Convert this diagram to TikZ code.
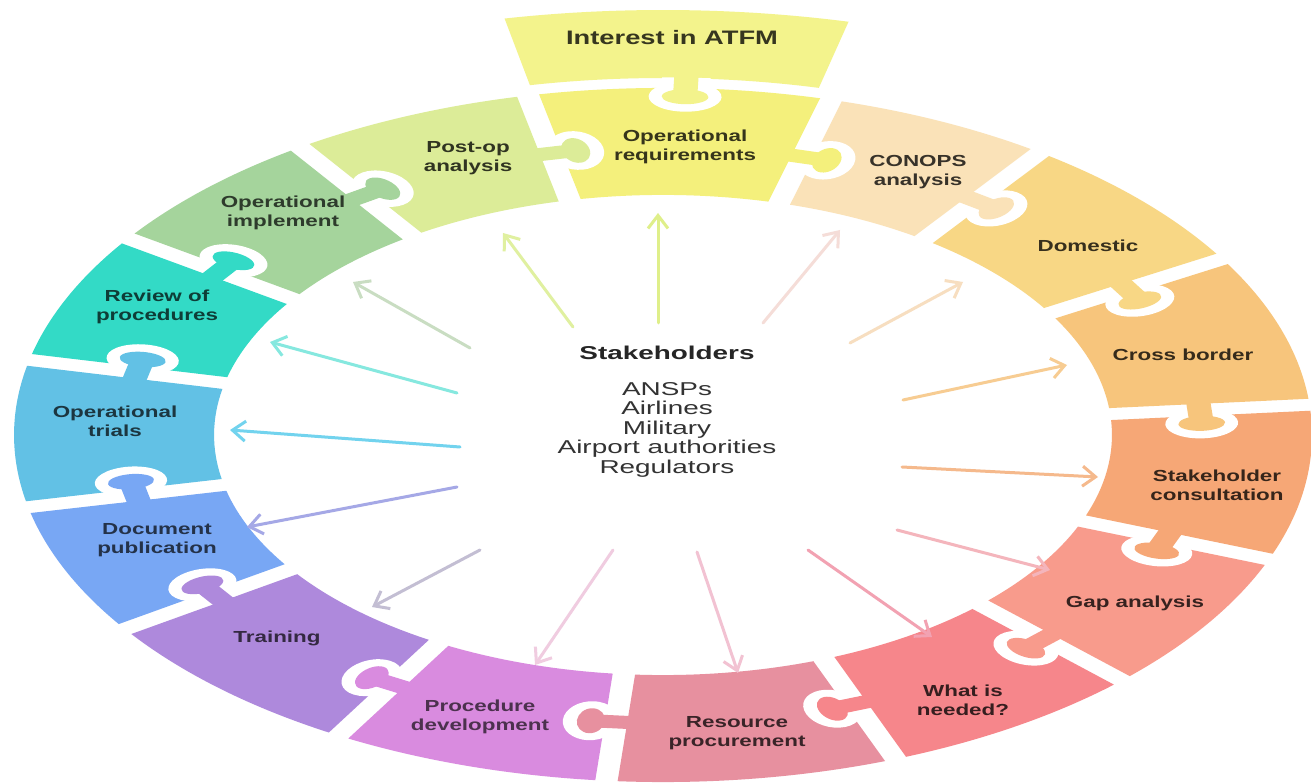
\documentclass[tikz,border=0pt]{standalone}
\usepackage{fontspec}
\setmainfont{Liberation Sans}
\newfontfamily\lblfont{Liberation Sans}[FakeStretch=1.4]
\newfontfamily\ctrfont{Liberation Sans}[FakeStretch=1.5]
\usetikzlibrary{arrows.meta}
% piece colours
\definecolor{pIA}{HTML}{F3F38C}
\definecolor{pOR}{HTML}{F4F07C}
\definecolor{pCO}{HTML}{FAE2B8}
\definecolor{pDO}{HTML}{F8D785}
\definecolor{pCB}{HTML}{F7C57C}
\definecolor{pSC}{HTML}{F6A776}
\definecolor{pGA}{HTML}{F89B8C}
\definecolor{pWN}{HTML}{F6868B}
\definecolor{pRP}{HTML}{E7909F}
\definecolor{pPD}{HTML}{D98BDF}
\definecolor{pTR}{HTML}{AE89DC}
\definecolor{pDP}{HTML}{78A7F4}
\definecolor{pOT}{HTML}{62C1E5}
\definecolor{pRV}{HTML}{33DAC6}
\definecolor{pOI}{HTML}{A5D49C}
\definecolor{pPA}{HTML}{DCEC98}
% arrow colours
\definecolor{aOR}{HTML}{DFEF8A}
\definecolor{aPA}{HTML}{E0F0A0}
\definecolor{aOI}{HTML}{C9DDC2}
\definecolor{aRV}{HTML}{86E8DF}
\definecolor{aOT}{HTML}{72D3EE}
\definecolor{aDP}{HTML}{A5A8E6}
\definecolor{aTR}{HTML}{C3BED3}
\definecolor{aPD}{HTML}{F0CCE0}
\definecolor{aRP}{HTML}{F2C2D2}
\definecolor{aWN}{HTML}{F2A2B2}
\definecolor{aGA}{HTML}{F4B5BC}
\definecolor{aSC}{HTML}{F5B98C}
\definecolor{aCB}{HTML}{F7CC92}
\definecolor{aDO}{HTML}{F7DEC0}
\definecolor{aCO}{HTML}{F5DDD8}
\newcommand\pzknob[2]{%
  \begin{scope}
    \clip (#2-32,5.5) rectangle (#2+32,-50);
    \fill[white] (#2,-13.5) ellipse[x radius=19.5,y radius=15];
    \fill[white] (#2-13,-13.5) rectangle (#2+13,6);
  \end{scope}
  \fill[#1] (#2,-13.5) ellipse[x radius=12.5,y radius=7.5];
  \fill[#1] (#2-6.5,-13.5) rectangle (#2+6.5,8);
}
\tikzset{
  lbl/.style={font=\lblfont\bfseries\fontsize{16}{19}\selectfont, align=center, inner sep=0pt},
  arr/.style={line width=3pt, line cap=round, -{Straight Barb[length=13pt,width=20pt]}},
}
\begin{document}
\begin{tikzpicture}[x=1pt,y=1pt]
\useasboundingbox (0,0) rectangle (1311,782);
\fill[white] (0,0) rectangle (1311,782);
\begin{scope}[shift={(663,347)}, xscale=1.87]
  % top piece
  \fill[pIA] (101.5:425) arc[start angle=101.5, end angle=76.5, radius=425]
     -- (76.5:357) arc[start angle=76.5, end angle=101.5, radius=357] -- cycle;
  % ring pieces
  \foreach \a/\b/\c in {5/30.5/pCB, 30.5/54.5/pDO, 54.5/75/pCO, 75/102/pOR,
      102/124/pPA, 124/145.5/pOI, 145.5/167.5/pRV, 167.5/192/pOT, 192/214/pDP,
      214/240/pTR, 240/265/pPD, 265/291/pRP, 291/315/pWN, 315/339/pGA, 339/365/pSC}{
    \fill[\c] ([rotate=\a]240,6) -- ([rotate=\a]347,6)
      arc[start angle={\a+0.99}, end angle={\b-0.99}, radius=347]
      -- ([rotate=\b]347,-6) -- ([rotate=\b]240,-6)
      arc[start angle={\b-1.43}, end angle={\a+1.43}, radius=240] -- cycle;
  }
  % knobs
  \foreach \t/\c in {5/pCB, 30.5/pDO, 54.5/pCO, 75/pOR, 102/pPA, 124/pOI,
      145.5/pRV, 167.5/pOT, 192/pDP, 214/pTR, 240/pPD, 265/pRP, 291/pWN,
      315/pGA, 339/pSC}{
    \begin{scope}[rotate=\t]
      \pzknob{\c}{288}
    \end{scope}
  }
  \begin{scope}[rotate=-2, shift={(0,352)}]
    \pzknob{pIA}{0}
  \end{scope}
\end{scope}
% labels
\node[lbl, font=\lblfont\bfseries\fontsize{19.5}{22}\selectfont, text=pIA!22!black] (lIA) at (672,744) {Interest in ATFM};
\node[lbl, text=pOR!22!black] (lOR) at (685,635) {Operational\\requirements};
\node[lbl, text=pCO!22!black] (lCO) at (918,610) {CONOPS\\analysis};
\node[lbl, text=pDO!22!black] (lDO) at (1088,536) {Domestic};
\node[lbl, text=pCB!22!black] (lCB) at (1183,427) {Cross border};
\node[lbl, text=pSC!22!black] (lSC) at (1217,297) {Stakeholder\\consultation};
\node[lbl, text=pGA!22!black] (lGA) at (1135,179) {Gap analysis};
\node[lbl, text=pWN!22!black] (lWN) at (963,82) {What is\\needed?};
\node[lbl, text=pRP!25!black] (lRP) at (737,49) {Resource\\procurement};
\node[lbl, text=pPD!35!black] (lPD) at (480,65) {Procedure\\development};
\node[lbl, text=pTR!30!black] (lTR) at (277,144) {Training};
\node[lbl, text=pDP!30!black] (lDP) at (157,242) {Document\\publication};
\node[lbl, text=pOT!28!black] (lOT) at (115,361) {Operational\\trials};
\node[lbl, text=pRV!28!black] (lRV) at (157,475) {Review of\\procedures};
\node[lbl, text=pOI!28!black] (lOI) at (283,569) {Operational\\implement};
\node[lbl, text=pPA!22!black] (lPA) at (468,624) {Post-op\\analysis};
% centre
\node[font=\ctrfont\bfseries\fontsize{18.6}{20}\selectfont, text=black!85, anchor=base, inner sep=0pt] (hd) at (667,422) {Stakeholders};
\node[font=\ctrfont\fontsize{18.6}{19.5}\selectfont, text=black!80, align=center, inner sep=0pt] (lst) at (667,352.5) {ANSPs\\Airlines\\Military\\Airport authorities\\Regulators};
% arrows
\coordinate (tOR) at (658,459); \coordinate (hOR) at (658,569);
\coordinate (tPA) at (573,455); \coordinate (hPA) at (503,549);
\coordinate (tOI) at (470,434); \coordinate (hOI) at (353,500);
\coordinate (tRV) at (457,389); \coordinate (hRV) at (270,440);
\coordinate (tOT) at (460,335); \coordinate (hOT) at (230,352);
\coordinate (tDP) at (457,295); \coordinate (hDP) at (247,255);
\coordinate (tTR) at (480,232); \coordinate (hTR) at (372,175);
\coordinate (tPD) at (613,232); \coordinate (hPD) at (535,117);
\coordinate (tRP) at (697,230); \coordinate (hRP) at (738,109);
\coordinate (tWN) at (808,232); \coordinate (hWN) at (932,145);
\coordinate (tGA) at (897,252); \coordinate (hGA) at (1050,212);
\coordinate (tSC) at (902,315); \coordinate (hSC) at (1098,305);
\coordinate (tCB) at (903,382); \coordinate (hCB) at (1067,417);
\coordinate (tDO) at (850,439); \coordinate (hDO) at (963,500);
\coordinate (tCO) at (763,459); \coordinate (hCO) at (840,552);
\foreach \k in {OR,PA,OI,RV,OT,DP,TR,PD,RP,WN,GA,SC,CB,DO,CO}{
  \draw[arr, draw=a\k] (t\k) -- (h\k);
}
\end{tikzpicture}
\end{document}
